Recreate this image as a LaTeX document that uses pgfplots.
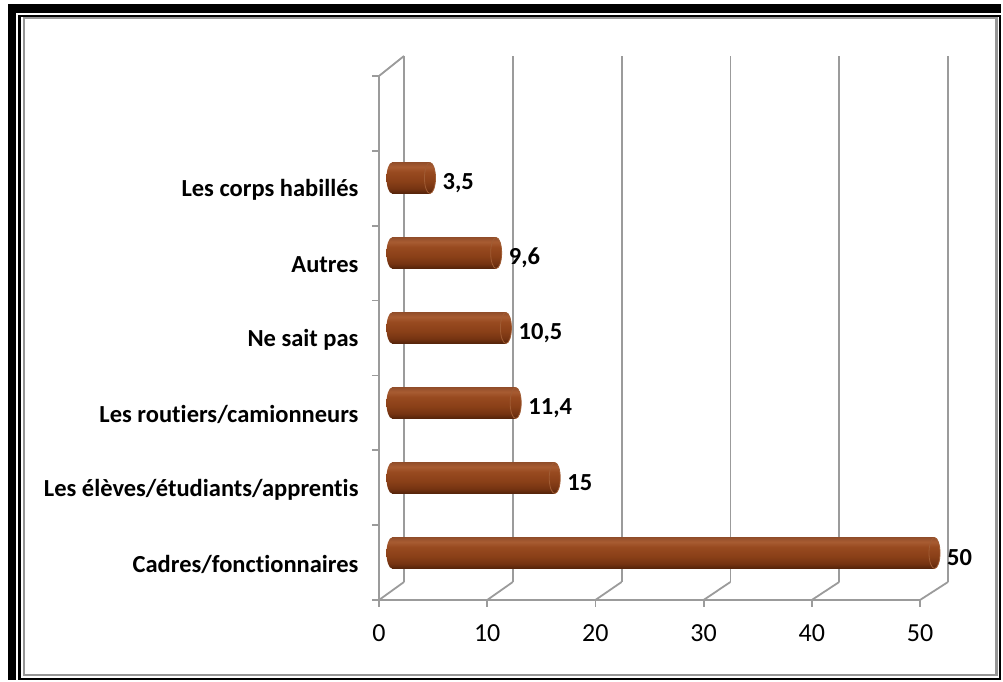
\documentclass[border=0pt]{standalone}
\usepackage{pgfplots}
\usepackage{pgfplotstable}
\pgfplotsset{compat=1.18}
\usepackage{fontspec}
\setmainfont{Carlito}[Ligatures=NoCommon]
\definecolor{gridgray}{RGB}{155,155,155}
\definecolor{frgray}{RGB}{150,150,150}
\definecolor{bD}{RGB}{84,35,10}
\definecolor{bM0}{RGB}{118,52,18}
\definecolor{bM1}{RGB}{138,64,24}
\definecolor{bM2}{RGB}{152,74,32}
\definecolor{bL}{RGB}{168,92,50}
\definecolor{bT}{RGB}{146,78,42}
\definecolor{capedge}{RGB}{160,92,52}
\pgfdeclareverticalshading{brownbar}{100bp}{color(0bp)=(bD); color(25bp)=(bD); color(33bp)=(bM0); color(45bp)=(bM1); color(60bp)=(bM2); color(68bp)=(bL); color(75bp)=(bT); color(100bp)=(bT)}
\pgfdeclareplotmark{capL}{\pgfpathellipse{\pgfpointorigin}{\pgfqpoint{5.5pt}{0pt}}{\pgfqpoint{0pt}{15.5pt}}\pgfshadepath{brownbar}{0}\pgfusepath{discard}}
\pgfdeclareplotmark{capR}{\pgfpathellipse{\pgfpointorigin}{\pgfqpoint{5.5pt}{0pt}}{\pgfqpoint{0pt}{15.5pt}}\pgfshadepath{brownbar}{0}\pgfsetstrokecolor{capedge}\pgfsetlinewidth{0.8pt}\pgfusepath{stroke}}

\pgfplotstableread{
pos val
0.5 50
1.5 15
2.5 11.4
3.5 10.5
4.5 9.6
5.5 3.5
}\datatable

\begin{document}
\begin{tikzpicture}[x=1pt,y=1pt]
\path[use as bounding box] (0,0) rectangle (1003,682);
% frame
\fill[black] (8.3,678) rectangle (15.7,2.3);
\fill[black] (8.3,678) rectangle (1001,669.3);
\draw[black, line width=2.3pt] (19.5,665.8) rectangle (999.7,3.3);
\draw[frgray, line width=2.2pt] (23.8,663.7) rectangle (996.5,6.7);

% back wall
\begin{axis}[at={(404pt,100pt)}, anchor=south west, scale only axis,
  width=544pt, height=526pt, xmin=0, xmax=50, ymin=0, ymax=7,
  axis line style={draw=none}, xtick={0,10,...,50}, ytick=\empty,
  xticklabels={}, major tick length=0pt, xmajorgrids,
  grid style={gridgray, line width=1.8pt}, clip=false]
  \pgfplotsinvokeforeach{0,10,...,50}{\coordinate (b#1) at (axis cs:#1,0);}
  \coordinate (btop) at (axis cs:0,7);
\end{axis}

% front frame
\begin{axis}[at={(379pt,82pt)}, anchor=south west, scale only axis,
  width=541pt, height=524pt, xmin=0, xmax=50, ymin=0, ymax=7,
  axis x line*=bottom, axis y line*=left,
  axis line style={gridgray, line width=1.8pt, -},
  xtick={0,10,...,50}, xtick pos=bottom, ytick pos=left,
  tick align=outside, major tick length=7pt, minor tick length=7pt,
  x tick style={gridgray, line width=1.8pt},
  ytick={0.5,1.5,...,5.5},
  yticklabels={Cadres/fonctionnaires, Les élèves/étudiants/apprentis, Les routiers/camionneurs, Ne sait pas, Autres, Les corps habillés},
  major y tick style={draw=none},
  minor ytick={0,...,7},
  minor y tick style={gridgray, line width=1.8pt},
  /pgf/number format/assume math mode=true,
  xticklabel style={font=\fontsize{26}{30}\selectfont, text=black, yshift=-14pt},
  yticklabel style={font=\bfseries\fontsize{24.5}{29}\selectfont, text=black, anchor=east, xshift=-10pt, yshift=-2pt},
  clip=false]
  \pgfplotsinvokeforeach{0,10,...,50}{\coordinate (f#1) at (axis cs:#1,0);}
  \coordinate (ftop) at (axis cs:0,7);
\end{axis}

\foreach \v in {0,10,...,50}{\draw[gridgray, line width=1.8pt] (f\v) -- (b\v);}
\draw[gridgray, line width=1.8pt] (ftop) -- (btop);

% bars
\begin{axis}[at={(392pt,91.5pt)}, anchor=south west, scale only axis,
  width=542.5pt, height=525pt, xmin=0, xmax=50, ymin=0, ymax=7,
  hide axis, clip=false,
  cyl/.style={xbar, bar width=31pt, bar shift=0pt, draw=none, shade, shading=brownbar}]
  \addplot[only marks, mark=capL] table[x expr=0, y=pos] {\datatable};
  \addplot[cyl] coordinates {(50,0.5)};
  \addplot[cyl] coordinates {(15,1.5)};
  \addplot[cyl] coordinates {(11.4,2.5)};
  \addplot[cyl] coordinates {(10.5,3.5)};
  \addplot[cyl] coordinates {(9.6,4.5)};
  \addplot[cyl] coordinates {(3.5,5.5)};
  \addplot[only marks, mark=capR, point meta=x,
    nodes near coords={\pgfmathprintnumber[use comma, assume math mode=true]{\pgfplotspointmeta}},
    nodes near coords style={font=\bfseries\fontsize{24.5}{29}\selectfont, text=black, anchor=west, xshift=9pt, yshift=-5pt}]
    table[x=val, y=pos] {\datatable};
\end{axis}
\end{tikzpicture}
\end{document}
